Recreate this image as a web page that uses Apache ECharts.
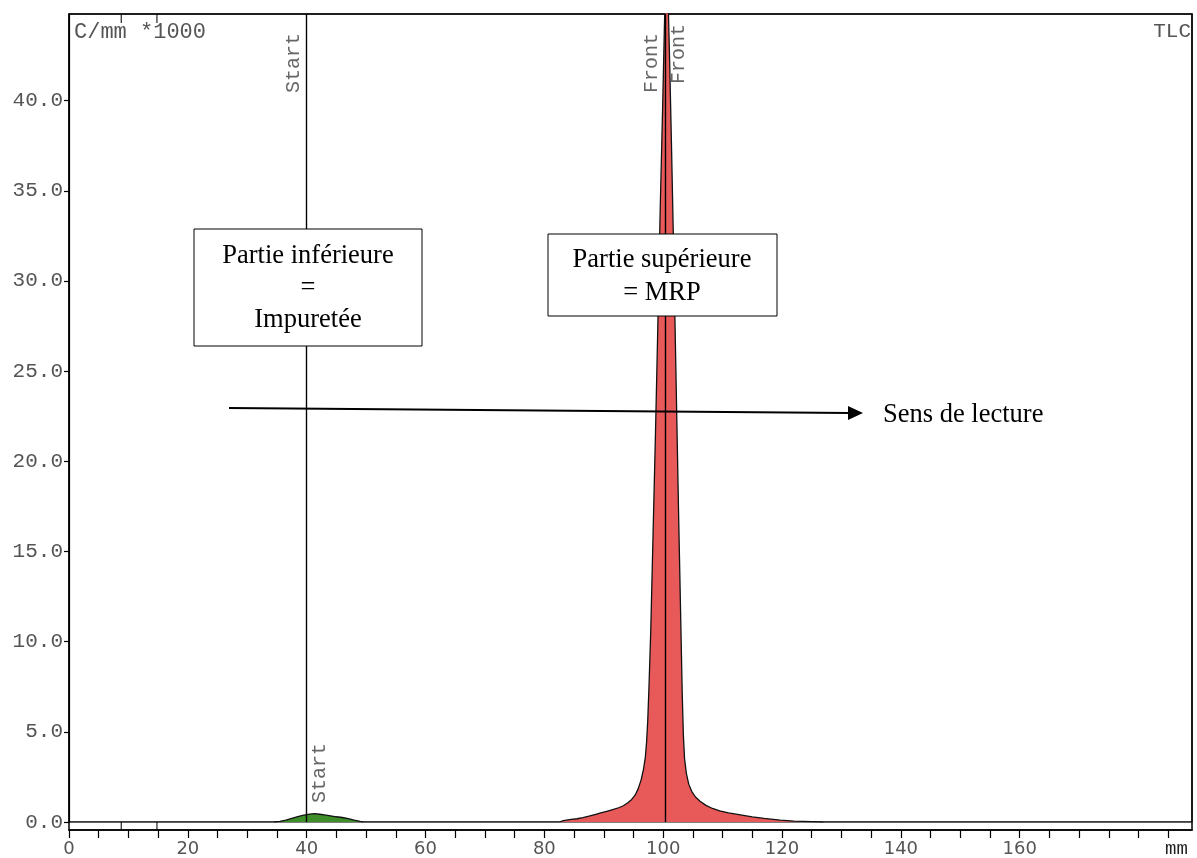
<!DOCTYPE html>
<html>
<head>
<meta charset="utf-8">
<script src="https://cdn.jsdelivr.net/npm/echarts@6/dist/echarts.min.js"></script>
<style>
html,body{margin:0;padding:0;background:#fff;}
#chart{width:1197px;height:858px;}
</style>
</head>
<body>
<div id="chart"></div>
<script>
// ---- Data (mm, C/mm *1000) ----
const impurityPoints = [
  [34.5,0],[35.5,0.04],[36.5,0.1],[37.5,0.2],[38.5,0.3],[39.5,0.38],[40.5,0.44],[41.3,0.46],
  [42.2,0.43],[43,0.39],[44,0.34],[45,0.29],[46,0.25],[47,0.19],[48,0.1],[49,0.03],[49.5,0]
];
const mrpPoints = [
  [82.5,0],[83.2,0.08],[84.5,0.14],[85.5,0.18],[86.5,0.24],[87.5,0.32],[88.5,0.41],[89.5,0.5],
  [90.5,0.59],[91.5,0.68],[92.5,0.79],[93.3,0.9],[94,1.05],[94.7,1.25],[95.3,1.5],[95.8,1.85],
  [96.3,2.35],[96.7,2.95],[97.0,3.6],[97.2,4.4],[97.4,5.6],[97.6,7.4],[97.9,10.5],[98.3,16],
  [98.7,21.5],[99.1,27.5],[99.5,34],[99.9,39.5],[100.2,44],[100.5,48],[100.8,46],[101.1,42],
  [101.4,37.5],[101.8,31],[102.2,24],[102.6,17],[103.0,10.5],[103.2,7.2],[103.4,4.8],[103.6,3.5],
  [103.9,2.7],[104.3,2.1],[104.8,1.7],[105.4,1.4],[106.2,1.15],[107.2,0.92],[108.3,0.75],
  [109.5,0.62],[111,0.5],[113,0.39],[115,0.28],[117,0.2],[119.7,0.1],[122,0.05],[125,0.02],[127,0]
];
const baselineSegments = [[0,0],[34.5,0],null,[49.5,0],[82.5,0],null,[127,0],[189,0]];
const startPosition = 40;
const frontPosition = 100.3;
const laneMarks = [8.8, 14.8];
const xMax = 189, yMax = 44.8;
const xLabelValues = [0,20,40,60,80,100,120,140,160];

const mono = "'Liberation Mono','DejaVu Sans Mono',monospace";
const labelColor = '#555';

const chart = echarts.init(document.getElementById('chart'), null, {renderer:'canvas'});
const option = {
  animation: false,
  backgroundColor: '#fff',
  grid: [
    {left:69, right:5, top:14, bottom:36, show:true, borderColor:'#000', borderWidth:1.2, backgroundColor:'transparent'},
    {left:69, right:5, top:14, bottom:28, show:true, borderColor:'#000', borderWidth:1.5, backgroundColor:'transparent'}
  ],
  xAxis: [
    {type:'value', gridIndex:0, min:0, max:xMax, show:false},
    {type:'value', gridIndex:1, min:0, max:xMax, interval:5,
     axisLine:{show:true, onZero:false, lineStyle:{color:'#000', width:1.5}},
     axisTick:{show:true, inside:false, length:8, lineStyle:{color:'#000', width:1.2}},
     splitLine:{show:false},
     axisLabel:{margin:10, color:labelColor, fontFamily:"'DejaVu Sans',sans-serif", fontSize:18,
       showMaxLabel:false,
       formatter: v => xLabelValues.indexOf(v) >= 0 ? String(v) : ''},
     name:'mm', nameLocation:'end', nameGap:-27,
     nameTextStyle:{fontFamily:mono, fontSize:19, color:'#222', align:'left', verticalAlign:'top', padding:[9,0,0,0]}
    }
  ],
  yAxis: [
    {type:'value', gridIndex:0, min:0, max:yMax, interval:5,
     axisLine:{show:true, lineStyle:{color:'#000', width:1.2}},
     axisTick:{show:true, length:5, lineStyle:{color:'#000', width:1.2}},
     splitLine:{show:false},
     axisLabel:{margin:6, color:labelColor, fontFamily:mono, fontSize:21, showMaxLabel:false,
       formatter: v => v.toFixed(1)}
    },
    {type:'value', gridIndex:1, show:false, min:0, max:1}
  ],
  series: [
    {type:'line', name:'baseline', xAxisIndex:0, yAxisIndex:0, data: baselineSegments, showSymbol:false,
     symbol:'none', lineStyle:{color:'#000', width:1}, silent:true},
    {type:'line', name:'Impureté', xAxisIndex:0, yAxisIndex:0, data: impurityPoints, symbol:'none',
     lineStyle:{color:'#111', width:1.3}, areaStyle:{color:'#3e8e2a', opacity:1, origin:'auto'}, silent:true,
     markLine:{symbol:'none', silent:true, animation:false,
       lineStyle:{color:'#000', width:1.2, type:'solid'},
       label:{fontFamily:mono, fontSize:20, color:'#666', distance:3},
       data:[
         {xAxis:startPosition, label:{formatter:'Start', position:'insideEndTop', padding:[0,16,0,0]}},
         {xAxis:startPosition, label:{formatter:'Start', position:'insideStartBottom', padding:[0,0,0,16], distance:3}}
       ]}
    },
    {type:'line', name:'MRP', xAxisIndex:0, yAxisIndex:0, data: mrpPoints, symbol:'none',
     lineStyle:{color:'#111', width:1.3}, areaStyle:{color:'#e85a5a', opacity:1, origin:'auto'}, silent:true,
     markLine:{symbol:'none', silent:true, animation:false,
       lineStyle:{color:'#000', width:1.2, type:'solid'},
       label:{fontFamily:mono, fontSize:20, color:'#666', distance:3},
       data:[
         {xAxis:frontPosition, label:{formatter:'Front', position:'insideEndTop', padding:[0,16,0,0]}},
         {xAxis:frontPosition, label:{formatter:'Front', position:'insideEndBottom', padding:[0,6,0,0], distance:4}}
       ]}
    },
    {type:'scatter', xAxisIndex:0, yAxisIndex:0, clip:false, silent:true,
     data: laneMarks.map(m => [m, yMax]), symbol:'rect', symbolSize:[1.3,9], symbolOffset:[0,4.5],
     itemStyle:{color:'#000'}},
    {type:'scatter', xAxisIndex:0, yAxisIndex:0, clip:false, silent:true,
     data: laneMarks.map(m => [m, 0]), symbol:'rect', symbolSize:[1.3,8], symbolOffset:[0,4],
     itemStyle:{color:'#000'}}
  ],
  graphic: [
    {type:'text', left:74, top:21, z:50, style:{text:'C/mm *1000', font:"22px 'Liberation Mono', monospace", fill:'#555'}},
    {type:'text', right:6, top:21, z:50, style:{text:'TLC', font:"21px 'Liberation Mono', monospace", fill:'#555'}},
    {type:'rect', z:60, shape:{x:194, y:229, width:228, height:117}, style:{fill:'#fff', stroke:'#000', lineWidth:1}},
    {type:'text', z:61, x:308, y:288, style:{text:'Partie inférieure\n=\nImpuretée', font:"26.5px 'Liberation Serif', serif",
      fill:'#000', align:'center', verticalAlign:'middle', lineHeight:32}},
    {type:'rect', z:60, shape:{x:548, y:234, width:229, height:82}, style:{fill:'#fff', stroke:'#000', lineWidth:1}},
    {type:'text', z:61, x:662, y:277, style:{text:'Partie supérieure\n= MRP', font:"26.5px 'Liberation Serif', serif",
      fill:'#000', align:'center', verticalAlign:'middle', lineHeight:33}},
    {type:'line', z:62, shape:{x1:229, y1:408, x2:850, y2:413}, style:{stroke:'#000', lineWidth:2}},
    {type:'polygon', z:62, shape:{points:[[848,406],[863,413],[848,420]]}, style:{fill:'#000'}},
    {type:'text', z:62, x:883, y:415, style:{text:'Sens de lecture', font:"26.5px 'Liberation Serif', serif",
      fill:'#000', align:'left', verticalAlign:'middle'}}
  ]
};
chart.setOption(option);
</script>
</body>
</html>
